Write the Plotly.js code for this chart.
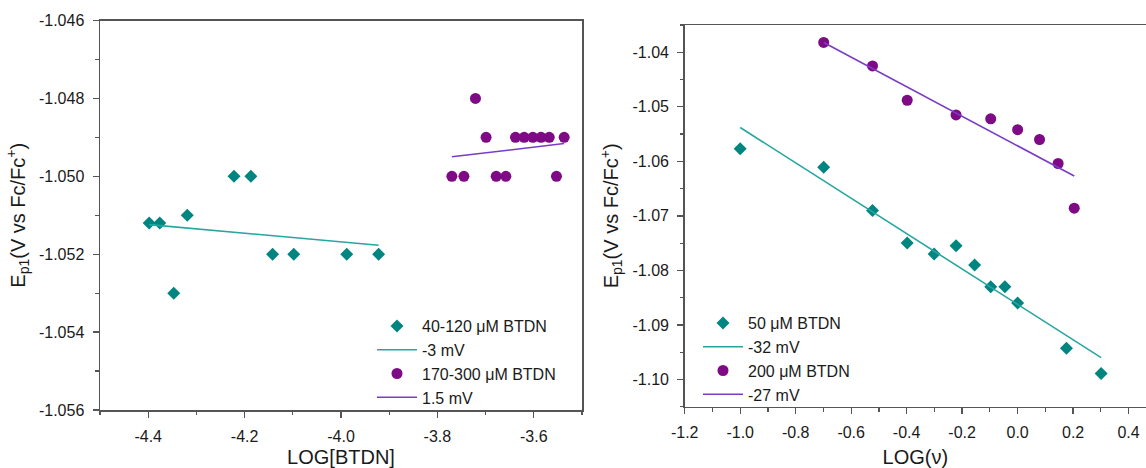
<!DOCTYPE html>
<html>
<head>
<meta charset="utf-8">
<script src="https://cdn.plot.ly/plotly-3.0.1.min.js"></script>
<style>
  html, body { margin: 0; padding: 0; background: #fff; overflow: hidden; }
  #chart { width: 1146px; height: 468px; }
</style>
</head>
<body>
<div id="chart"></div>
<script>
// ---------- Left panel: Ep1 vs LOG[BTDN] ----------
var lowConcX = [-4.398, -4.376, -4.347, -4.319, -4.222, -4.187, -4.142, -4.098, -3.988, -3.922];
var lowConcY = [-1.0512, -1.0512, -1.053, -1.051, -1.050, -1.050, -1.052, -1.052, -1.052, -1.052];
var lowFitX = [-4.398, -3.922];
var lowFitY = [-1.05124, -1.05177];

var highConcX = [-3.770, -3.745, -3.721, -3.699, -3.678, -3.658, -3.638, -3.620, -3.602, -3.585, -3.568, -3.553, -3.537];
var highConcY = [-1.050, -1.050, -1.048, -1.049, -1.050, -1.050, -1.049, -1.049, -1.049, -1.049, -1.049, -1.050, -1.049];
var highFitX = [-3.770, -3.537];
var highFitY = [-1.0495, -1.04916];

var leftNames = ['40-120 μM BTDN', '-3 mV', '170-300 μM BTDN', '1.5 mV'];
var leftXTickVals = [-4.4, -4.2, -4.0, -3.8, -3.6];
var leftXTickText = ['-4.4', '-4.2', '-4.0', '-3.8', '-3.6'];
var leftYTickVals = [-1.056, -1.054, -1.052, -1.050, -1.048, -1.046];
var leftYTickText = ['-1.056', '-1.054', '-1.052', '-1.050', '-1.048', '-1.046'];

// ---------- Right panel: Ep1 vs LOG(v) ----------
var rate50X = [-1.0, -0.699, -0.523, -0.398, -0.301, -0.222, -0.155, -0.097, -0.046, 0.0, 0.176, 0.301];
var rate50Y = [-1.0577, -1.0611, -1.0690, -1.0750, -1.0770, -1.0755, -1.0790, -1.0830, -1.0830, -1.0860, -1.0943, -1.0989];
var fit50X = [-1.0, 0.301];
var fit50Y = [-1.0538, -1.0960];

var rate200X = [-0.699, -0.523, -0.398, -0.222, -0.097, 0.0, 0.079, 0.146, 0.204];
var rate200Y = [-1.0382, -1.0425, -1.0488, -1.0515, -1.0522, -1.0542, -1.0560, -1.0604, -1.0686];
var fit200X = [-0.699, 0.204];
var fit200Y = [-1.0382, -1.0627];

var rightNames = ['50 μM BTDN', '-32 mV', '200 μM BTDN', '-27 mV'];
var rightXTickVals = [-1.2, -1.0, -0.8, -0.6, -0.4, -0.2, 0.0, 0.2, 0.4];
var rightXTickText = ['-1.2', '-1.0', '-0.8', '-0.6', '-0.4', '-0.2', '0.0', '0.2', '0.4'];
var rightYTickVals = [-1.10, -1.09, -1.08, -1.07, -1.06, -1.05, -1.04];
var rightYTickText = ['-1.10', '-1.09', '-1.08', '-1.07', '-1.06', '-1.05', '-1.04'];

// ---------- styles ----------
var TEAL_M = '#008580';
var TEAL_L = '#26A6A0';
var PURP_M = '#7E0A86';
var PURP_L = '#7A3CC4';
var FONT = 'Liberation Sans, Arial, sans-serif';
var AXC = '#555555';

var traces = [
  {x: lowConcX, y: lowConcY, xaxis: 'x', yaxis: 'y', mode: 'markers', name: leftNames[0], legend: 'legend',
   marker: {symbol: 'diamond', size: 10, color: TEAL_M}},
  {x: lowFitX, y: lowFitY, xaxis: 'x', yaxis: 'y', mode: 'lines', name: leftNames[1], legend: 'legend',
   line: {color: TEAL_L, width: 1.6}},
  {x: highConcX, y: highConcY, xaxis: 'x', yaxis: 'y', mode: 'markers', name: leftNames[2], legend: 'legend',
   marker: {symbol: 'circle', size: 11, color: PURP_M}},
  {x: highFitX, y: highFitY, xaxis: 'x', yaxis: 'y', mode: 'lines', name: leftNames[3], legend: 'legend',
   line: {color: PURP_L, width: 1.6}},

  {x: rate50X, y: rate50Y, xaxis: 'x2', yaxis: 'y2', mode: 'markers', name: rightNames[0], legend: 'legend2',
   marker: {symbol: 'diamond', size: 10, color: TEAL_M}},
  {x: fit50X, y: fit50Y, xaxis: 'x2', yaxis: 'y2', mode: 'lines', name: rightNames[1], legend: 'legend2',
   line: {color: TEAL_L, width: 1.6}},
  {x: rate200X, y: rate200Y, xaxis: 'x2', yaxis: 'y2', mode: 'markers', name: rightNames[2], legend: 'legend2',
   marker: {symbol: 'circle', size: 11, color: PURP_M}},
  {x: fit200X, y: fit200Y, xaxis: 'x2', yaxis: 'y2', mode: 'lines', name: rightNames[3], legend: 'legend2',
   line: {color: PURP_L, width: 1.6}}
];

function axisBase() {
  return {
    showgrid: false, zeroline: false, showline: true, linecolor: AXC, linewidth: 1.5,
    ticks: 'outside', ticklen: 6, tickwidth: 1.3, tickcolor: AXC,
    tickfont: {family: FONT, size: 16, color: '#1a1a1a'},
    tickmode: 'array', ticklabelstandoff: 5
  };
}

var W = 1146, H = 468;

var xa = Object.assign(axisBase(), {
  domain: [100 / W, 582 / W], anchor: 'y', range: [-4.5, -3.5], mirror: true,
  tickvals: leftXTickVals, ticktext: leftXTickText,
  minor: {tickmode: 'linear', tick0: -4.5, dtick: 0.1, ticks: 'outside', ticklen: 3.5, tickcolor: AXC, tickwidth: 1.2},
  title: {text: 'LOG[BTDN]', font: {family: FONT, size: 20, color: '#1a1a1a'}, standoff: 10}
});
var ya = Object.assign(axisBase(), {
  domain: [1 - 410 / H, 1 - 20.5 / H], anchor: 'x', range: [-1.056, -1.046], mirror: true,
  tickvals: leftYTickVals, ticktext: leftYTickText,
  minor: {tickmode: 'linear', tick0: -1.056, dtick: 0.001, ticks: 'outside', ticklen: 3.5, tickcolor: AXC, tickwidth: 1.2},
  title: {text: 'E<sub>p1</sub>(V vs Fc/Fc<sup>+</sup>)', font: {family: FONT, size: 20, color: '#1a1a1a'}, standoff: 8}
});
var xa2 = Object.assign(axisBase(), {
  domain: [684.7 / W, 1], anchor: 'y2', range: [-1.2, 0.4627], mirror: true,
  tickvals: rightXTickVals, ticktext: rightXTickText,
  minor: {tickmode: 'linear', tick0: -1.2, dtick: 0.1, ticks: 'outside', ticklen: 3.5, tickcolor: AXC, tickwidth: 1.2},
  title: {text: 'LOG(ν)', font: {family: FONT, size: 20, color: '#1a1a1a'}, standoff: 10}
});
var ya2 = Object.assign(axisBase(), {
  domain: [1 - 406.7 / H, 1 - 25 / H], anchor: 'x2', range: [-1.105, -1.035], mirror: false,
  tickvals: rightYTickVals, ticktext: rightYTickText,
  minor: {tickmode: 'linear', tick0: -1.105, dtick: 0.005, ticks: 'outside', ticklen: 3.5, tickcolor: AXC, tickwidth: 1.2},
  title: {text: 'E<sub>p1</sub>(V vs Fc/Fc<sup>+</sup>)', font: {family: FONT, size: 20, color: '#1a1a1a'}, standoff: 8}
});

var legendBase = {
  bgcolor: 'rgba(0,0,0,0)', borderwidth: 0, xanchor: 'left', yanchor: 'top',
  font: {family: FONT, size: 16, color: '#1a1a1a'}, itemwidth: 40, tracegroupgap: 0, traceorder: 'normal'
};

var layout = {
  width: W, height: H,
  margin: {l: 0, r: 0, t: 0, b: 0, pad: 0},
  paper_bgcolor: '#ffffff', plot_bgcolor: '#ffffff',
  font: {family: FONT, color: '#1a1a1a'},
  showlegend: true,
  xaxis: xa, yaxis: ya, xaxis2: xa2, yaxis2: ya2,
  legend: Object.assign({}, legendBase, {x: 372 / W, y: 1 - 309 / H}),
  legend2: Object.assign({}, legendBase, {x: 698 / W, y: 1 - 306 / H})
};

Plotly.newPlot('chart', traces, layout, {staticPlot: true, displayModeBar: false});
</script>
</body>
</html>
